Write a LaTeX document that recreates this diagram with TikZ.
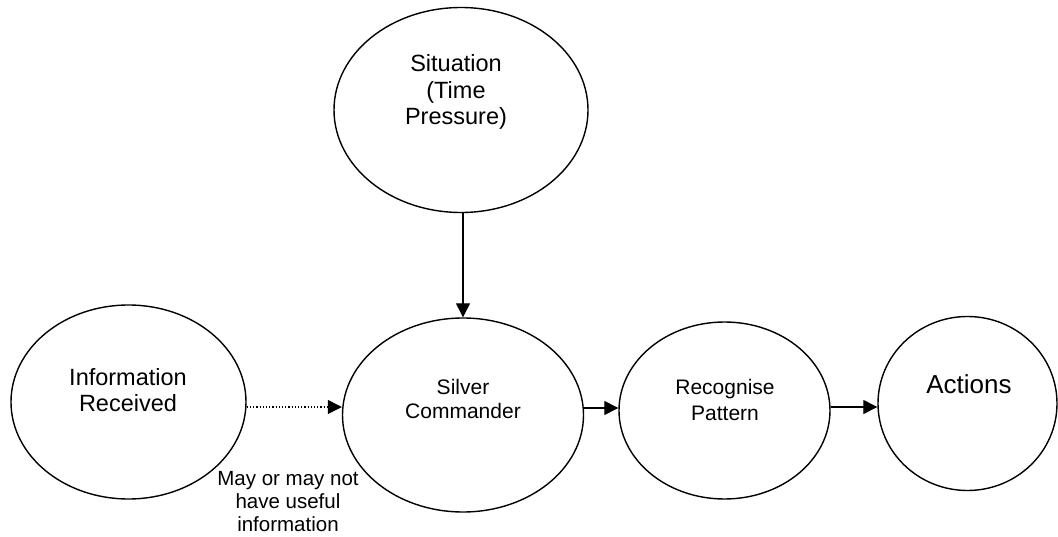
\documentclass[tikz,border=0pt]{standalone}
\usepackage{fontspec}
\setmainfont{Liberation Sans}
\usetikzlibrary{shapes.geometric,arrows.meta}
\begin{document}
\begin{tikzpicture}[x=1pt,y=-1pt,
  bubble/.style={draw=black,line width=1.4pt,ellipse,inner sep=0pt},
  txt/.style={align=center,inner sep=0pt,text=black},
  flow/.style={draw=black,line width=1.3pt,-{Triangle[length=14pt,width=14pt]}},
  hint/.style={flow,line width=1.2pt,dotted}]
\useasboundingbox (0,0) rectangle (1058,537);

% the five bubbles
\node[bubble,minimum width=254pt,minimum height=205pt] (sit) at (461,110) {};
\node[bubble,minimum width=235pt,minimum height=194pt] (info) at (128.5,402) {};
\node[bubble,minimum width=241pt,minimum height=194pt] (silver) at (463,415) {};
\node[bubble,minimum width=211pt,minimum height=177pt] (recog) at (724.5,410.5) {};
\node[bubble,minimum width=179pt,minimum height=174pt] (act) at (967.5,403.5) {};

% their texts
\node[txt,font=\fontsize{23.5}{26.5}\selectfont] (sitT) at (456,92) {Situation\\(Time\\Pressure)};
\node[txt,font=\fontsize{23.5}{26}\selectfont] (infoT) at (128,390) {Information\\Received};
\node[txt,font=\fontsize{21}{24}\selectfont] (silverT) at (463,399) {Silver\\Commander};
\node[txt,font=\fontsize{21}{26}\selectfont] (recogT) at (725,400) {Recognise\\Pattern};
\node[txt,font=\fontsize{26}{30}\selectfont] (actT) at (969,384) {Actions};
\node[txt,font=\fontsize{20.5}{23}\selectfont] (note) at (288,502) {May or may not\\have useful\\information};

% connectors
\draw[flow] (sit.south -| silver.north) -- (silver.north);
\draw[hint] ([yshift=-5pt]info.east) -- ([yshift=-5pt]info.east -| silver.west);
\draw[flow] ([yshift=7pt]silver.east) -- ([yshift=7pt]silver.east -| recog.west);
\draw[flow] ([yshift=3.5pt]recog.east) -- ([yshift=3.5pt]recog.east -| act.west);
\end{tikzpicture}
\end{document}
